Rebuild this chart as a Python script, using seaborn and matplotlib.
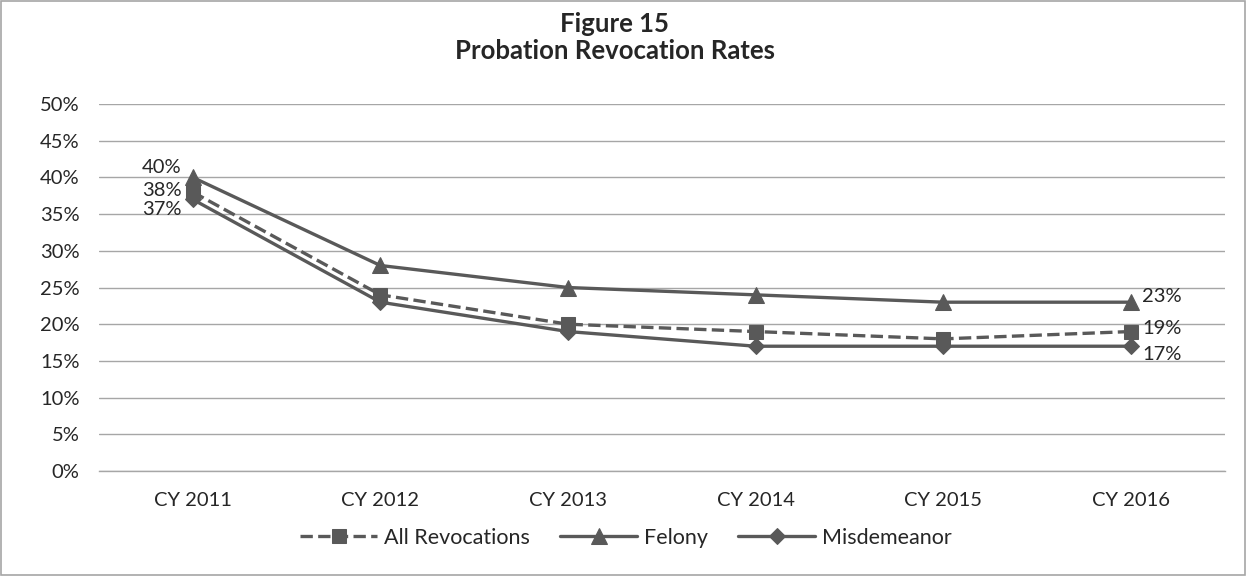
import matplotlib
matplotlib.use('Agg')

import matplotlib.pyplot as plt
import numpy as np
import pandas as pd
import seaborn as sns
from matplotlib.patches import Rectangle
from matplotlib.ticker import FixedLocator, PercentFormatter

years = ['CY 2011', 'CY 2012', 'CY 2013', 'CY 2014', 'CY 2015', 'CY 2016']
all_revocations = [38, 24, 20, 19, 18, 19]
felony = [40, 28, 25, 24, 23, 23]
misdemeanor = [37, 23, 19, 17, 17, 17]

sns.set_style('white')
plt.rcParams['font.family'] = ['Lato', 'DejaVu Sans']

GREY = '#595959'
FS = 14.5

df = pd.DataFrame({
    'Year': years * 3,
    'x': list(range(len(years))) * 3,
    'Rate': all_revocations + felony + misdemeanor,
    'Series': ['All Revocations'] * 6 + ['Felony'] * 6 + ['Misdemeanor'] * 6,
})

fig = plt.figure(figsize=(12.47, 5.76), dpi=100)
ax = fig.add_axes([0.0794, 0.1823, 0.9026, 0.6371])

styles = {
    'All Revocations': dict(marker='s', dashes=(4.5, 4), ms=10),
    'Felony': dict(marker='^', dashes=None, ms=12),
    'Misdemeanor': dict(marker='D', dashes=None, ms=8.5),
}
for name, st in styles.items():
    sub = df[df['Series'] == name]
    kw = dict(linestyle='--', dashes=st['dashes']) if st['dashes'] else dict(linestyle='-')
    sns.lineplot(data=sub, x='x', y='Rate', ax=ax, color=GREY, linewidth=2.4,
                 marker=st['marker'], markersize=st['ms'], markeredgecolor=GREY,
                 label=name, **kw)

# data labels at the ends
first_off = {'Felony': 7, 'All Revocations': 1, 'Misdemeanor': -7}
last_off = {'Felony': 4, 'All Revocations': 2, 'Misdemeanor': -6}
for name, vals in [('All Revocations', all_revocations), ('Felony', felony),
                   ('Misdemeanor', misdemeanor)]:
    ax.annotate('{}%'.format(vals[0]), (0, vals[0]), xytext=(-8, first_off[name]),
                textcoords='offset points', ha='right', va='center', fontsize=FS)
    ax.annotate('{}%'.format(vals[-1]), (5, vals[-1]), xytext=(8, last_off[name]),
                textcoords='offset points', ha='left', va='center', fontsize=FS)

ax.set_xlim(-0.5, 5.5)
ax.set_ylim(0, 50)
ax.set_yticks(np.arange(0, 51, 5))
ax.yaxis.set_major_formatter(PercentFormatter(decimals=0))
ax.set_xticks(range(len(years)))
ax.set_xticklabels(years)
ax.xaxis.set_minor_locator(FixedLocator(np.arange(-0.5, 6, 1)))
ax.tick_params(axis='x', which='major', length=0, pad=15, labelsize=FS)
ax.tick_params(axis='x', which='minor', length=6, color='#a6a6a6', width=1)
ax.tick_params(axis='y', length=0, pad=14, labelsize=FS)
ax.set_xlabel('')
ax.set_ylabel('')

ax.grid(axis='y', color='#a6a6a6', linewidth=1)
ax.set_axisbelow(True)
for s in ['left', 'right', 'top']:
    ax.spines[s].set_visible(False)
ax.spines['bottom'].set_color('#a6a6a6')
ax.spines['bottom'].set_linewidth(1)

ax.legend(loc='upper center', bbox_to_anchor=(0.468, -0.125), ncol=3, frameon=False,
          fontsize=15.5, handlelength=3.6, columnspacing=1.4, handletextpad=0.3,
          borderpad=0)

fig.text(0.493, 0.958, 'Figure 15', ha='center', va='center', fontsize=18.5,
         fontweight='bold')
fig.text(0.493, 0.911, 'Probation Revocation Rates', ha='center', va='center',
         fontsize=18.5, fontweight='bold')

fig.patches.append(Rectangle((0.001, 0.002), 0.997, 0.996, transform=fig.transFigure,
                             fill=False, edgecolor='#a6a6a6', linewidth=1.2))

fig.savefig('out.png', dpi=100)
plt.close()
